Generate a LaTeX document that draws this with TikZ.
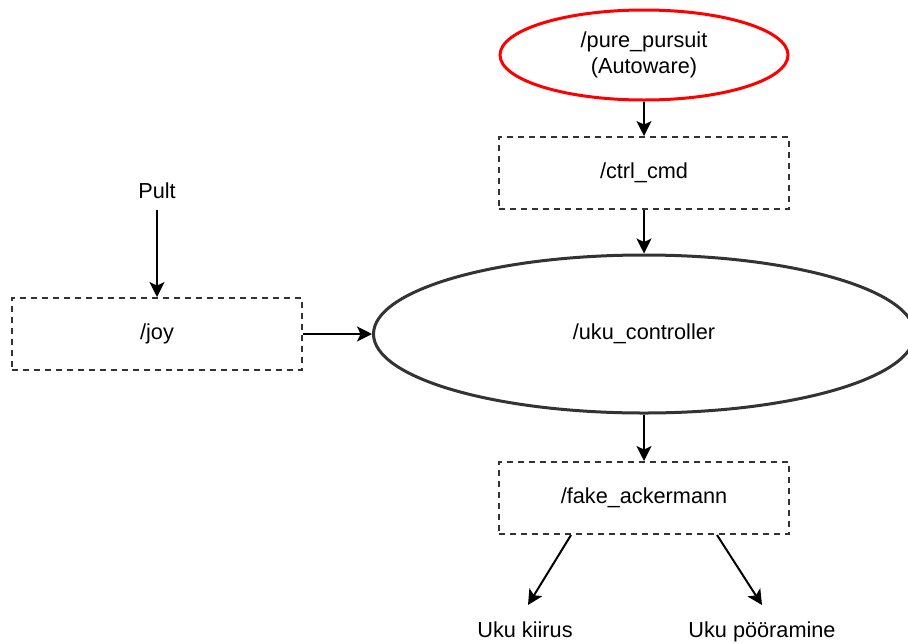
\documentclass[tikz,border=0pt]{standalone}
\usepackage{fontspec}
\setmainfont{Liberation Sans}
\usetikzlibrary{shapes.geometric,arrows.meta,calc}

\definecolor{edgegray}{HTML}{333333}
\definecolor{nodered}{HTML}{FF0000}

\tikzset{
  topicbox/.style={draw=edgegray, line width=1pt, dash pattern=on 3pt off 2.5pt,
    rectangle, minimum width=145pt, minimum height=36pt, inner sep=0pt},
  nodeoval/.style={ellipse, line width=1.5pt, inner sep=0pt},
  plain/.style={inner sep=0pt},
  arr/.style={draw=black, line width=1pt,
    -{Stealth[length=7.5pt, width=7.5pt, inset=1.8pt]}},
  every node/.style={font=\fontsize{10.85}{13}\selectfont, align=center}
}

\begin{document}
\begin{tikzpicture}[x=0.5pt, y=-0.5pt]
  \useasboundingbox (0,0) rectangle (908,643);
  \clip (0,0) rectangle (908,643);

  % ROS nodes
  \node[nodeoval, draw=nodered, minimum width=144pt, minimum height=45pt]
    (pursuit) at (644,55) {/pure\_pursuit\\(Autoware)};
  \node[nodeoval, draw=edgegray, minimum width=270.5pt, minimum height=79pt]
    (uku) at (644,334) {/uku\_controller};

  % topics
  \node[topicbox] (ctrl) at (644,173) {/ctrl\_cmd};
  \node[topicbox] (joy) at (157,334) {/joy};
  \node[topicbox] (fake) at (644,498) {/fake\_ackermann};

  % inputs and outputs
  \node[plain, inner sep=5.5pt] (pult) at (157,191) {Pult};
  \node[plain, anchor=base] (kiirus) at (525,637.5) {Uku kiirus};
  \node[plain, anchor=base] (poor) at (762,637.5) {Uku pööramine};

  \coordinate (fakeL) at ($(fake.south west)!0.25!(fake.south east)$);
  \coordinate (fakeR) at ($(fake.south west)!0.75!(fake.south east)$);
  \coordinate (kiirusTip) at (528,605);
  \coordinate (poorTip) at (762,605);

  % connectors
  \draw[arr] (pursuit.south) -- (ctrl.north);
  \draw[arr] (ctrl.south) -- (uku.north);
  \draw[arr] (pult.south) -- (joy.north);
  \draw[arr] (joy.east) -- (uku.west);
  \draw[arr] (uku.south) -- (fake.north);
  \draw[arr] (fakeL) -- (kiirusTip);
  \draw[arr] (fakeR) -- (poorTip);
\end{tikzpicture}
\end{document}
